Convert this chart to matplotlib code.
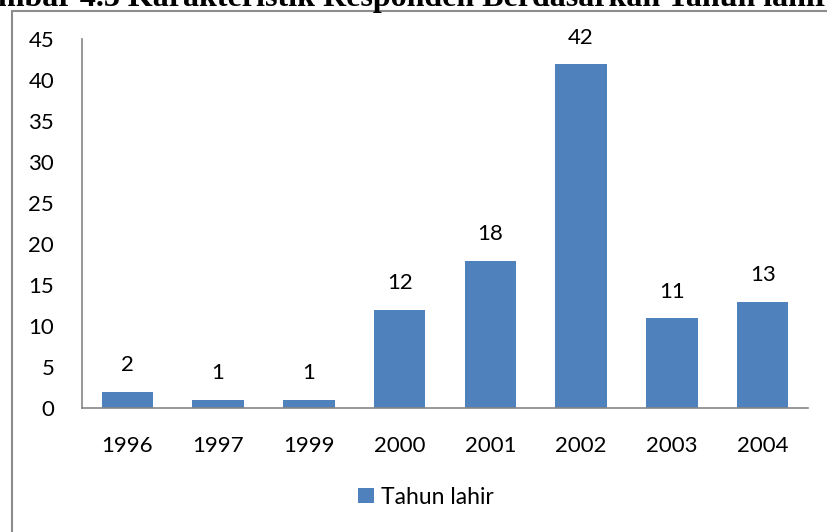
import numpy as np
import matplotlib.pyplot as plt
from matplotlib.patches import Patch, Rectangle

# ── Data ────────────────────────────────────────────────────
years = ["1996", "1997", "1999", "2000", "2001", "2002", "2003", "2004"]
counts = [2, 1, 1, 12, 18, 42, 11, 13]
series_name = "Tahun lahir"
title = "Gambar 4.3 Karakteristik Responden Berdasarkan Tahun lahir"

bar_color = "#4F81BD"
axis_color = "#868686"

plt.rcParams["font.family"] = ["Lato", "DejaVu Sans"]

W, H = 828, 532
fig = plt.figure(figsize=(W / 100, H / 100), dpi=100)

# ── Axes area (pixel positions from the reference) ──────────
left, right, top, bottom = 82, 808, 39.4, 408
ax = fig.add_axes([left / W, 1 - bottom / H, (right - left) / W, (bottom - top) / H])

x = np.arange(len(years))
bars = ax.bar(x, counts, width=0.57, color=bar_color, zorder=2)

ax.set_xlim(-0.5, len(years) - 0.5)
ax.set_ylim(0, 45)
ax.set_yticks(range(0, 46, 5))
ax.set_xticks(x)
ax.set_xticklabels(years)

ax.tick_params(axis="both", length=0, labelsize=16, colors="black")
ax.tick_params(axis="x", pad=20)
ax.tick_params(axis="y", pad=20)

for side in ["top", "right"]:
    ax.spines[side].set_visible(False)
for side in ["left", "bottom"]:
    ax.spines[side].set_color(axis_color)
    ax.spines[side].set_linewidth(1.2)

# data labels
for xi, val in zip(x, counts):
    ax.annotate(str(val), (xi, val), xytext=(0, 19), textcoords="offset points",
                ha="center", va="center", fontsize=16)

# ── Legend ─────────────────────────────────────────────────
handle = Patch(facecolor=bar_color, edgecolor="none", label=series_name)
fig.legend(handles=[handle], loc="center", bbox_to_anchor=(426 / W, 1 - 497 / H),
           frameon=False, fontsize=16.5, handlelength=0.68, handleheight=0.68,
           handletextpad=0.3, borderpad=0)

# ── Frame around chart and caption (cut at top, as in the scan) ─
fig.add_artist(Rectangle((12.5 / W, -0.1), 1.0, (H - 10.5) / H + 0.1,
                         transform=fig.transFigure, fill=False,
                         edgecolor="#8c8c8c", linewidth=1.5))

fig.text(-43 / W, 1 - 6 / H, title, ha="left", va="baseline",
         fontsize=23, fontweight="bold", family="Liberation Serif")

fig.savefig("out.png", dpi=100)
